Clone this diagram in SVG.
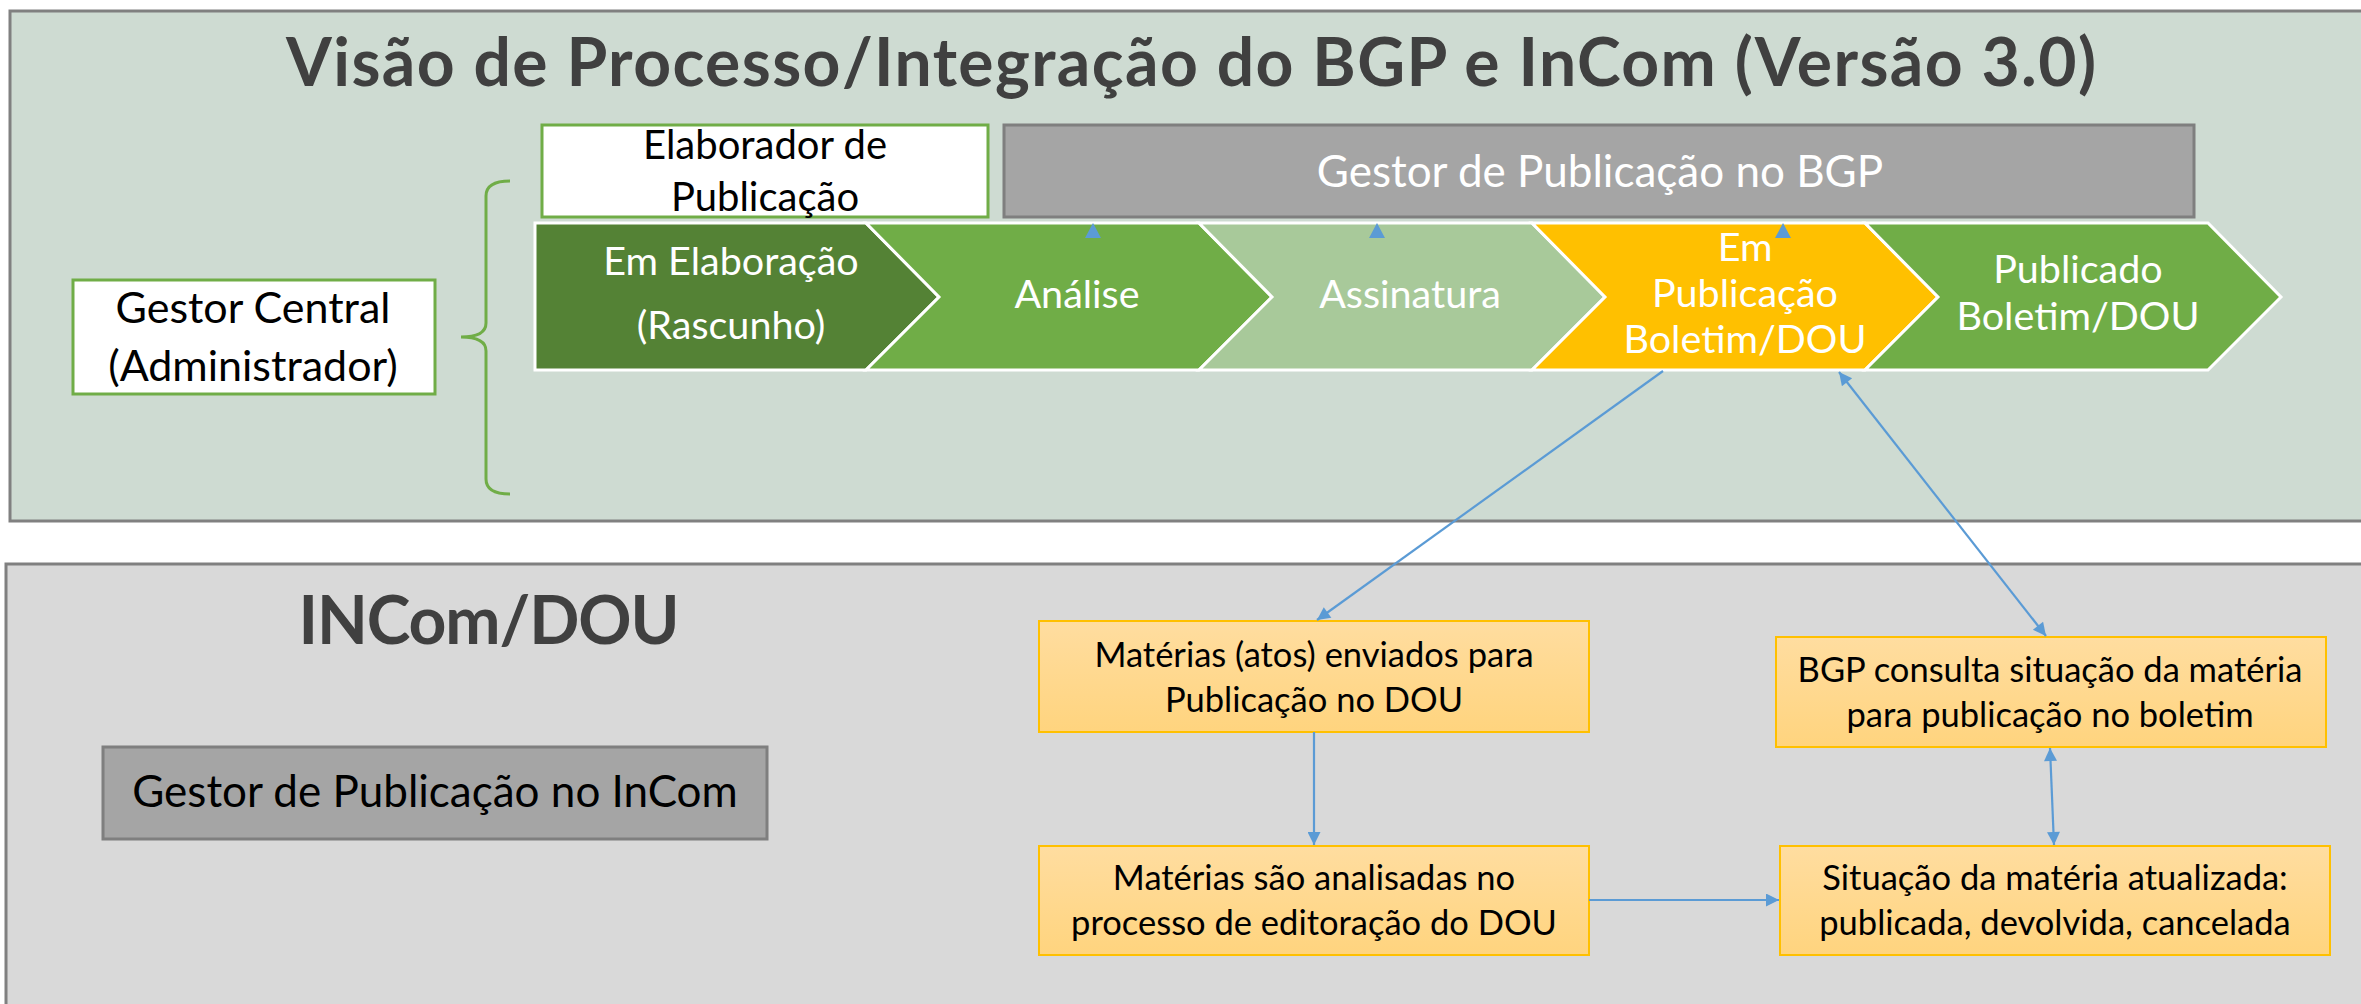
<svg xmlns="http://www.w3.org/2000/svg" width="2361" height="1004" viewBox="0 0 2361 1004">
<defs>
<style>
.t{font-family:Lato,"Open Sans","Liberation Sans",sans-serif;text-anchor:middle}
.w{fill:#ffffff}
.k{fill:#000000}
.h{font-weight:bold;fill:#404040;font-size:66px}
.chev{font-size:39.5px}
.org{font-size:34.5px}
.box-o{fill:url(#og);stroke:#FFC000;stroke-width:2}
.box-g{fill:#A5A5A5;stroke:#7F7F7F;stroke-width:3}
.box-w{fill:#ffffff;stroke:#70AD47;stroke-width:3}
.con{stroke:#5B9BD5;stroke-width:2.2;fill:none}
.seg{stroke:#ffffff;stroke-width:3}
</style>
<linearGradient id="og" x1="0" y1="0" x2="0" y2="1">
<stop offset="0" stop-color="#FFDDA0"/>
<stop offset="1" stop-color="#FFD47E"/>
</linearGradient>
<marker id="ah" viewBox="0 0 10 10" refX="10" refY="5" markerWidth="16" markerHeight="13" markerUnits="userSpaceOnUse" orient="auto-start-reverse">
<path d="M0,0 L10,5 L0,10 Z" fill="#5B9BD5"/>
</marker>
</defs>

<g id="panel-bgp">
<rect x="10" y="11" width="2360" height="510" fill="#CEDBD2" stroke="#808080" stroke-width="3"/>
<text class="t h" x="1191" y="86" textLength="1810">Visão de Processo/Integração do BGP e InCom (Versão 3.0)</text>
</g>

<g id="panel-incom">
<rect x="6" y="564" width="2370" height="460" fill="#D9D9D9" stroke="#808080" stroke-width="3"/>
<text class="t h" x="489" y="644" textLength="381">INCom/DOU</text>
</g>

<g id="gestor-central">
<rect class="box-w" x="73" y="280" width="362" height="114"/>
<text class="t k" x="253" y="323" font-size="43">Gestor Central</text>
<text class="t k" x="253" y="381" font-size="43">(Administrador)</text>
</g>

<g id="brace">
<path d="M510,181 Q486,181 486,196 L486,323 Q486,337 461,337 Q486,337 486,351 L486,479 Q486,494 510,494" fill="none" stroke="#70AD47" stroke-width="3"/>
</g>

<g id="elaborador">
<rect class="box-w" x="542" y="125" width="446" height="92"/>
<text class="t k" x="765" y="159" font-size="40">Elaborador de</text>
<text class="t k" x="765" y="211" font-size="40">Publicação</text>
</g>

<g id="gestor-bgp">
<rect class="box-g" x="1004" y="125" width="1190" height="92"/>
<text class="t w" x="1600" y="187" font-size="44">Gestor de Publicação no BGP</text>
</g>

<g id="em-elaboracao">
<path class="seg" d="M535,223 L866,223 L939,297 L866,370 L535,370 Z" fill="#548235"/>
<text class="t w chev" x="731" y="275">Em Elaboração</text>
<text class="t w chev" x="731" y="339">(Rascunho)</text>
</g>

<g id="analise">
<path class="seg" d="M866,223 L1199,223 L1272,297 L1199,370 L866,370 L939,297 Z" fill="#70AD47"/>
<text class="t w chev" x="1077" y="308">Análise</text>
</g>

<g id="assinatura">
<path class="seg" d="M1199,223 L1532,223 L1605,297 L1532,370 L1199,370 L1272,297 Z" fill="#A8C99A"/>
<text class="t w chev" x="1410" y="308">Assinatura</text>
</g>

<g id="em-publicacao">
<path class="seg" d="M1532,223 L1865,223 L1938,297 L1865,370 L1532,370 L1605,297 Z" fill="#FFC000"/>
<text class="t w chev" x="1745" y="261">Em</text>
<text class="t w chev" x="1745" y="307">Publicação</text>
<text class="t w chev" x="1745" y="353">Boletim/DOU</text>
</g>

<g id="publicado">
<path class="seg" d="M1865,223 L2208,223 L2281,297 L2208,370 L1865,370 L1938,297 Z" fill="#70AD47"/>
<text class="t w chev" x="2078" y="283">Publicado</text>
<text class="t w chev" x="2078" y="330">Boletim/DOU</text>
</g>

<g id="gestor-incom">
<rect class="box-g" x="103" y="747" width="664" height="92"/>
<text class="t k" x="435" y="807" font-size="44">Gestor de Publicação no InCom</text>
</g>

<g id="materias-enviadas">
<rect class="box-o" x="1039" y="621" width="550" height="111"/>
<text class="t k org" x="1314" y="667">Matérias (atos) enviados para</text>
<text class="t k org" x="1314" y="712">Publicação no DOU</text>
</g>

<g id="bgp-consulta">
<rect class="box-o" x="1776" y="637" width="550" height="110"/>
<text class="t k org" x="2050" y="682">BGP consulta situação da matéria</text>
<text class="t k org" x="2050" y="727">para publicação no boletim</text>
</g>

<g id="materias-analisadas">
<rect class="box-o" x="1039" y="846" width="550" height="109"/>
<text class="t k org" x="1314" y="890">Matérias são analisadas no</text>
<text class="t k org" x="1314" y="935">processo de editoração do DOU</text>
</g>

<g id="situacao">
<rect class="box-o" x="1780" y="846" width="550" height="109"/>
<text class="t k org" x="2055" y="890">Situação da matéria atualizada:</text>
<text class="t k org" x="2055" y="935">publicada, devolvida, cancelada</text>
</g>

<g id="connectors">
<path class="con" d="M1663,371 L1317,620" marker-end="url(#ah)"/>
<path class="con" d="M1839,372 L2046,636" marker-start="url(#ah)" marker-end="url(#ah)"/>
<path class="con" d="M1314,732 L1314,845" marker-end="url(#ah)"/>
<path class="con" d="M1589,900 L1779,900" stroke-width="3.5" marker-end="url(#ah)"/>
<path class="con" d="M2050,748 L2054,845" marker-start="url(#ah)" marker-end="url(#ah)"/>
<path d="M1085,238 L1093,223 L1101,238 Z" fill="#5B9BD5"/>
<path d="M1369,238 L1377,223 L1385,238 Z" fill="#5B9BD5"/>
<path d="M1775,238 L1783,223 L1791,238 Z" fill="#5B9BD5"/>
</g>
</svg>
